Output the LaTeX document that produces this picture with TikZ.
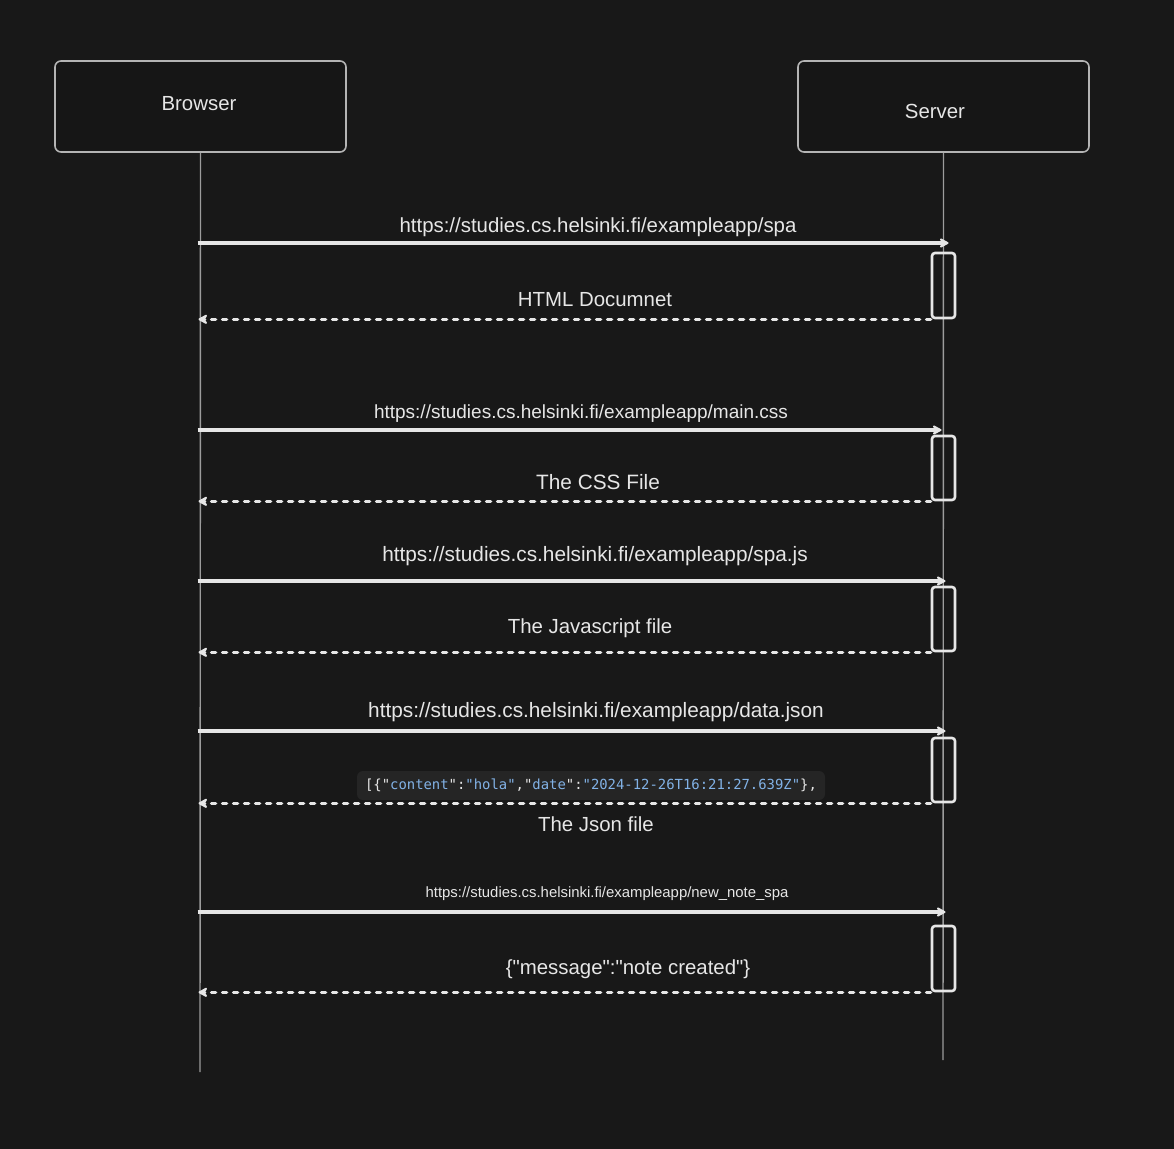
\documentclass[tikz,border=0pt]{standalone}
\usepackage{fontspec}
\setmainfont{Liberation Sans}[Ligatures=TeXOff]
\setmonofont{DejaVu Sans Mono}
\usepackage{tikz}
\usetikzlibrary{positioning,arrows.meta}
\tikzset{>={Stealth[round,length=5.5pt,width=6pt]}}

\definecolor{bgdark}{HTML}{181818}
\definecolor{boxfill}{HTML}{161616}
\definecolor{boxgray}{HTML}{B4B4B4}
\definecolor{lifegray}{HTML}{9C9C9C}
\definecolor{linewhite}{HTML}{E6E6E6}
\definecolor{snipfill}{HTML}{252525}
\definecolor{snipblue}{HTML}{82B2E6}

\newcommand{\jkey}[1]{"\textcolor{snipblue}{#1}"}
\newcommand{\jval}[1]{\textcolor{snipblue}{"#1"}}

\begin{document}
\begin{tikzpicture}[x=0.5pt,y=-0.5pt,
    actor/.style={draw=boxgray,line width=0.8pt,rounded corners=3pt,fill=boxfill,
        minimum width=145.5pt,minimum height=45.5pt},
    lifeline/.style={draw=lifegray,line width=0.7pt},
    act/.style={draw=linewhite,line width=1.3pt,rounded corners=1.5pt,
        minimum width=11.5pt,inner sep=0pt},
    req/.style={->,draw=linewhite,line width=1.6pt},
    resp/.style={->,draw=linewhite,line width=1.6pt,line cap=round,
        dash pattern=on 2.1pt off 3.4pt},
    msg/.style={text=linewhite,anchor=base,inner sep=0pt,
        font=\fontsize{10.2}{12}\selectfont}]
    % background and margins
    \useasboundingbox (0,0) rectangle (1174,1148);
    \fill[bgdark] (-10,-10) rectangle (1184,1158);

    % set up the actors
    \node[actor] (browser) at (200.5,106.5) {};
    \node[actor] (server) at (943.5,106.5) {};
    \node[msg] (browsertxt) at (199,110) {Browser};
    \node[msg] (servertxt) at (935,118) {Server};
    \coordinate (bend) at (200,1072);
    \coordinate (send) at (943,1060);
    \draw[lifeline] (browser.south) -- (bend);
    \draw[lifeline] (server.south) -- (send);

    % activation boxes on the server
    \node[act,minimum height=32.5pt] (act1) at (943.5,285.5) {};
    \node[act,minimum height=32pt] (act2) at (943.5,468) {};
    \node[act,minimum height=32pt] (act3) at (943.5,619) {};
    \node[act,minimum height=32pt] (act4) at (943.5,770) {};
    \node[act,minimum height=32.5pt] (act5) at (943.5,958.5) {};

    % message heights
    \coordinate (m1) at (0,243);
    \coordinate (m2) at (0,430);
    \coordinate (m3) at (0,581);
    \coordinate (m4) at (0,731);
    \coordinate (m5) at (0,912);

    % requests
    \draw[req] ([xshift=-1.5pt]browser.south |- m1) -- ([xshift=2.5pt]server.south |- m1);
    \draw[req] ([xshift=-1.5pt]browser.south |- m2) -- ([xshift=-1pt]server.south |- m2);
    \draw[req] ([xshift=-1.5pt]browser.south |- m3) -- ([xshift=1pt]server.south |- m3);
    \draw[req] ([xshift=-1.5pt]browser.south |- m4) -- ([xshift=1pt]server.south |- m4);
    \draw[req] ([xshift=-1.5pt]browser.south |- m5) -- ([xshift=1pt]server.south |- m5);

    % responses
    \draw[resp] (act1.south west) -- ([xshift=-1pt]browser.south |- act1.south);
    \draw[resp] (act2.south west) -- ([xshift=-1pt]browser.south |- act2.south);
    \draw[resp] (act3.south west) -- ([xshift=-1pt]browser.south |- act3.south);
    \draw[resp] (act4.south west) -- ([xshift=-1pt]browser.south |- act4.south);
    \draw[resp] (act5.south west) -- ([xshift=-1pt]browser.south |- act5.south);

    % text on the messages
    \node[msg] (l1) at (598,232) {https://studies.cs.helsinki.fi/exampleapp/spa};
    \node[msg] (l2) at (595,306) {HTML Documnet};
    \node[msg,font=\fontsize{9.5}{11}\selectfont] (l3) at (581,418)
        {https://studies.cs.helsinki.fi/exampleapp/main.css};
    \node[msg,font=\fontsize{10.4}{12}\selectfont] (l4) at (598,489) {The CSS File};
    \node[msg,font=\fontsize{10.4}{12}\selectfont] (l5) at (595,561)
        {https://studies.cs.helsinki.fi/exampleapp/spa.js};
    \node[msg] (l6) at (590,633) {The Javascript file};
    \node[msg,font=\fontsize{10.4}{12}\selectfont] (l7) at (596,717)
        {https://studies.cs.helsinki.fi/exampleapp/data.json};
    \node[fill=snipfill,rounded corners=3pt,minimum width=234pt,minimum height=14.5pt,
        inner sep=0pt,text=linewhite,font=\ttfamily\fontsize{6.95}{8}\selectfont]
        (snippet) at (591,785.5)
        {[\{\jkey{content}:\jval{hola},\jkey{date}:\jval{2024-12-26T16:21:27.639Z}\},};
    \node[msg] (l8) at (596,831) {The Json file};
    \node[msg,font=\fontsize{7.45}{9}\selectfont] (l9) at (607,897)
        {https://studies.cs.helsinki.fi/exampleapp/new\_note\_spa};
    \node[msg] (l10) at (628,974) {\{"message":"note created"\}};
\end{tikzpicture}
\end{document}
